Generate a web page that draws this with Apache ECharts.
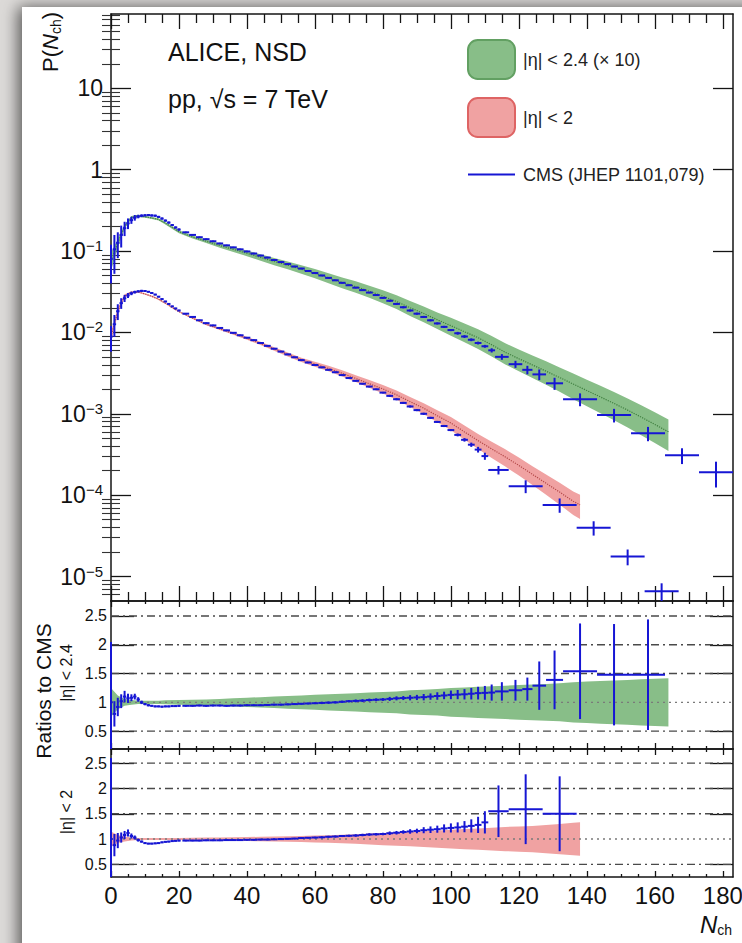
<!DOCTYPE html>
<html>
<head>
<meta charset="utf-8">
<script src="https://cdn.jsdelivr.net/npm/echarts@6/dist/echarts.min.js"></script>
<style>
  html, body { margin: 0; padding: 0; background: #e1dfdd; }
  #chart { width: 742px; height: 943px; }
</style>
</head>
<body>
<div id="chart"></div>
<script>
// Multiplicity distributions P(Nch) in pp collisions at √s = 7 TeV:
// ALICE (bands, central value ± systematic) against CMS (crosses), plus ratio panels.

const FONT = '"Liberation Sans", Arial, Helvetica, sans-serif';
const BLUE = '#1616d4';
const GREEN = '#88be88', GREEN_EDGE = '#62a062', GREEN_LINE = '#3f7f3f';
const RED = '#f0a2a2', RED_EDGE = '#de6464', RED_LINE = '#b44a4a';
const AXIS = '#141414';

const LABEL24 = '|η| < 2.4 (× 10)';
const LABEL20 = '|η| < 2';
const LABEL_CMS = 'CMS (JHEP 1101,079)';

// ---- tick values ----
const nchTicks = [0, 20, 40, 60, 80, 100, 120, 140, 160, 180];
const nchMinorTicks = [5, 10, 15, 25, 30, 35, 45, 50, 55, 65, 70, 75, 85, 90, 95, 105, 110, 115,
  125, 130, 135, 145, 150, 155, 165, 170, 175];
const pTicks = [1e-5, 1e-4, 1e-3, 1e-2, 0.1, 1, 10];
const ratioLabels = [0.5, 1, 1.5, 2, 2.5];
const ratioTicks = [0.5, 1.5, 2, 2.5];
const ratioGridLines = [0.5, 1, 1.5, 2, 2.5];

// ---- CMS |η| < 2.4 (×10): bin centre, bin width, P, relative error ----
const cms24Nch = [0, 1, 2, 3, 4, 5, 6, 7, 8, 9, 10, 11, 12, 13, 14, 15, 16, 17, 18, 19, 20,
  22, 24, 26, 28, 30, 32, 34, 36, 38, 40, 42, 44, 46, 48, 50, 52, 54, 56, 58, 60,
  62, 64, 66, 68, 70, 72, 74, 76, 78, 80, 82, 84, 86, 88, 90, 92, 94, 96, 98, 100,
  102, 104, 106, 108, 110, 112, 115, 119, 122.5, 126, 130.5, 138, 148, 158, 168, 178];
const cms24Width = [1, 1, 1, 1, 1, 1, 1, 1, 1, 1, 1, 1, 1, 1, 1, 1, 1, 1, 1, 1, 1,
  2, 2, 2, 2, 2, 2, 2, 2, 2, 2, 2, 2, 2, 2, 2, 2, 2, 2, 2, 2,
  2, 2, 2, 2, 2, 2, 2, 2, 2, 2, 2, 2, 2, 2, 2, 2, 2, 2, 2, 2,
  2, 2, 2, 2, 2, 2, 4, 4, 3, 4, 5, 10, 10, 10, 10, 10];
const cms24P = [0.080, 0.105, 0.126, 0.158, 0.191, 0.219, 0.240, 0.257, 0.266, 0.272, 0.275,
  0.277, 0.274, 0.272, 0.263, 0.251, 0.237, 0.224, 0.209, 0.195, 0.184,
  0.170, 0.158, 0.148, 0.140, 0.132, 0.124, 0.1175, 0.111, 0.105, 0.0989,
  0.0933, 0.0881, 0.0832, 0.0776, 0.0733, 0.0692, 0.0646, 0.0610, 0.0569, 0.0537,
  0.0501, 0.0468, 0.0437, 0.0407, 0.0380, 0.0355, 0.0331, 0.0309, 0.0288, 0.0266,
  0.0245, 0.0224, 0.0204, 0.0186, 0.0170, 0.0155, 0.0141, 0.0129, 0.0117, 0.0107,
  0.00977, 0.00891, 0.00813, 0.00741, 0.00676, 0.00603, 0.00501, 0.00407, 0.00347,
  0.00305, 0.00237, 0.00151, 0.000966, 0.000575, 0.000309, 0.000191];
const cms24Err = [0.5, 0.5, 0.35, 0.3, 0.2, 0.15, 0.1, 0.08, 0.05, 0.04,
  0.03, 0.03, 0.03, 0.03, 0.03, 0.03, 0.03, 0.03, 0.03, 0.03, 0.03,
  0.02, 0.02, 0.02, 0.02, 0.02, 0.02, 0.02, 0.02, 0.02, 0.02,
  0.02, 0.02, 0.02, 0.02, 0.02, 0.02, 0.02, 0.02, 0.02, 0.02,
  0.02, 0.02, 0.02, 0.02, 0.02, 0.02, 0.02, 0.02, 0.02, 0.02,
  0.03, 0.03, 0.03, 0.03, 0.03, 0.03, 0.03, 0.03, 0.03, 0.03,
  0.04, 0.04, 0.04, 0.04, 0.04,
  0.06, 0.08, 0.10, 0.12, 0.15, 0.17, 0.18, 0.19, 0.20, 0.22, 0.35];

// ---- CMS |η| < 2 ----
const cms20Nch = [0, 1, 2, 3, 4, 5, 6, 7, 8, 9, 10, 11, 12, 13, 14, 15, 16, 17, 18, 19, 20,
  22, 24, 26, 28, 30, 32, 34, 36, 38, 40, 42, 44, 46, 48, 50, 52, 54, 56, 58, 60,
  62, 64, 66, 68, 70, 72, 74, 76, 78, 80, 82, 84, 86, 88, 90, 92, 94, 96, 98, 100,
  102, 104, 106, 108, 110, 114, 122, 132, 142, 152, 162];
const cms20Width = [1, 1, 1, 1, 1, 1, 1, 1, 1, 1, 1, 1, 1, 1, 1, 1, 1, 1, 1, 1, 1,
  2, 2, 2, 2, 2, 2, 2, 2, 2, 2, 2, 2, 2, 2, 2, 2, 2, 2, 2, 2,
  2, 2, 2, 2, 2, 2, 2, 2, 2, 2, 2, 2, 2, 2, 2, 2, 2, 2, 2, 2,
  2, 2, 2, 2, 2, 6, 10, 10, 10, 10, 10];
const cms20P = [0.00891, 0.0126, 0.0182, 0.0229, 0.0263, 0.0285, 0.0302, 0.0313, 0.0320, 0.0324,
  0.0323, 0.0316, 0.0305, 0.0292, 0.0275, 0.0257, 0.0240, 0.0224, 0.0209, 0.0197, 0.0186,
  0.0170, 0.0155, 0.0141, 0.0130, 0.0122, 0.01135, 0.0106, 0.00989, 0.00923, 0.00861,
  0.00804, 0.00741, 0.00684, 0.00631, 0.00582, 0.00537, 0.00495, 0.00457, 0.00427, 0.00398,
  0.00372, 0.00347, 0.00324, 0.00299, 0.00275, 0.00254, 0.00234, 0.00216, 0.00200, 0.00182,
  0.00166, 0.00151, 0.00136, 0.00123, 0.00111, 0.00100, 0.000891, 0.000794, 0.000708, 0.000631,
  0.000550, 0.000479, 0.000417, 0.000363, 0.000302,
  0.000204, 0.000129, 0.0000759, 0.0000398, 0.0000176, 0.0000066];
const cms20Err = [0.35, 0.3, 0.22, 0.15, 0.1, 0.07, 0.05, 0.04, 0.03, 0.03,
  0.02, 0.02, 0.02, 0.02, 0.02, 0.02, 0.02, 0.02, 0.02, 0.02, 0.02,
  0.02, 0.02, 0.02, 0.02, 0.02, 0.02, 0.02, 0.02, 0.02, 0.02,
  0.02, 0.02, 0.02, 0.02, 0.02, 0.02, 0.02, 0.02, 0.02, 0.02,
  0.02, 0.02, 0.02, 0.02, 0.02, 0.02, 0.02, 0.02, 0.02, 0.02,
  0.03, 0.03, 0.03, 0.03, 0.03, 0.03, 0.03, 0.03, 0.03, 0.03,
  0.04, 0.05, 0.06, 0.08, 0.10,
  0.12, 0.18, 0.20, 0.20, 0.22, 0.25];

// ---- ALICE |η| < 2.4 (×10): central value and relative systematic uncertainty ----
const alice24Nch = [0, 2, 4, 6, 8, 10, 12, 14, 16, 20, 24, 28, 32, 36, 40, 44, 48, 52, 56, 60,
  64, 68, 72, 76, 80, 84, 88, 92, 96, 100, 104, 108, 112, 116, 120, 124, 128, 132, 136, 140,
  144, 148, 152, 156, 160, 164];
const alice24P = [0.076, 0.126, 0.200, 0.259, 0.271, 0.264, 0.255, 0.245, 0.220, 0.173,
  0.149, 0.132, 0.117, 0.105, 0.0940, 0.0837, 0.0745, 0.0671, 0.0598, 0.0532,
  0.0468, 0.0411, 0.0366, 0.0321, 0.0279, 0.0240, 0.0201, 0.0171, 0.0143, 0.0121,
  0.0102, 0.00860, 0.00705, 0.00570, 0.00475, 0.00398, 0.00334, 0.00279, 0.00232, 0.00193,
  0.00161, 0.00134, 0.00111, 0.000910, 0.000740, 0.000600];
const alice24Sys = [0.25, 0.12, 0.06, 0.04, 0.03, 0.03, 0.03, 0.03, 0.035, 0.04,
  0.045, 0.05, 0.06, 0.07, 0.08, 0.09, 0.10, 0.11, 0.12, 0.13,
  0.14, 0.15, 0.16, 0.17, 0.18, 0.19, 0.21, 0.22, 0.23, 0.25,
  0.26, 0.27, 0.28, 0.29, 0.30, 0.31, 0.32, 0.33, 0.35, 0.36,
  0.37, 0.38, 0.39, 0.40, 0.41, 0.42];

// ---- ALICE |η| < 2 ----
const alice20Nch = [0, 2, 4, 6, 8, 10, 12, 14, 16, 20, 24, 28, 32, 36, 40, 44, 48, 52, 56, 60,
  64, 68, 72, 76, 80, 84, 88, 92, 96, 100, 104, 108, 112, 116, 120, 124, 128, 132, 136, 138];
const alice20P = [0.0089, 0.0182, 0.0281, 0.0311, 0.0314, 0.0297, 0.0278, 0.0256, 0.0228, 0.0180,
  0.0150, 0.0126, 0.01107, 0.00969, 0.00848, 0.00734, 0.00628, 0.00537, 0.00462, 0.00408,
  0.00361, 0.00315, 0.00272, 0.00234, 0.00202, 0.00171, 0.00141, 0.00117, 0.000945, 0.000770,
  0.000599, 0.000468, 0.000370, 0.000295, 0.000232, 0.000180, 0.000140, 0.000109, 0.0000840, 0.0000760];
const alice20Sys = [0.15, 0.08, 0.05, 0.03, 0.02, 0.02, 0.02, 0.02, 0.02, 0.02,
  0.025, 0.03, 0.03, 0.035, 0.04, 0.045, 0.05, 0.055, 0.06, 0.07,
  0.075, 0.085, 0.095, 0.11, 0.12, 0.13, 0.14, 0.155, 0.17, 0.185,
  0.20, 0.21, 0.225, 0.24, 0.25, 0.26, 0.28, 0.30, 0.32, 0.33];

// ---- ratio to CMS, |η| < 2.4: bin centre, width, ratio, absolute error ----
const ratio24Nch = [0, 1, 2, 3, 4, 5, 6, 7, 8, 9, 10, 11, 12, 13, 14, 15, 16, 17, 18, 19, 20,
  22, 24, 26, 28, 30, 32, 34, 36, 38, 40, 42, 44, 46, 48, 50, 52, 54, 56, 58, 60,
  62, 64, 66, 68, 70, 72, 74, 76, 78, 80, 82, 84, 86, 88, 90, 92, 94, 96, 98, 100,
  102, 104, 106, 108, 110, 112, 115, 119, 122.5, 126, 130.5, 138, 148, 158];
const ratio24Width = [1, 1, 1, 1, 1, 1, 1, 1, 1, 1, 1, 1, 1, 1, 1, 1, 1, 1, 1, 1, 1,
  2, 2, 2, 2, 2, 2, 2, 2, 2, 2, 2, 2, 2, 2, 2, 2, 2, 2, 2, 2,
  2, 2, 2, 2, 2, 2, 2, 2, 2, 2, 2, 2, 2, 2, 2, 2, 2, 2, 2, 2,
  2, 2, 2, 2, 2, 2, 4, 4, 3, 4, 5, 10, 10, 10];
const ratio24 = [1.00, 0.80, 0.92, 1.02, 1.10, 1.07, 1.08, 1.10, 1.05, 1.00, 0.97,
  0.95, 0.94, 0.93, 0.93, 0.925, 0.93, 0.93, 0.935, 0.935, 0.94,
  0.94, 0.94, 0.945, 0.94, 0.945, 0.945, 0.94, 0.945, 0.945, 0.95,
  0.95, 0.95, 0.955, 0.96, 0.96, 0.965, 0.97, 0.975, 0.98, 0.985,
  0.99, 0.995, 1.00, 1.01, 1.02, 1.025, 1.03, 1.04, 1.045, 1.05,
  1.06, 1.07, 1.075, 1.08, 1.085, 1.09, 1.10, 1.11, 1.12, 1.13,
  1.135, 1.14, 1.15, 1.16, 1.165,
  1.17, 1.19, 1.21, 1.23, 1.29, 1.39, 1.54, 1.48, 1.48];
const ratio24Err = [1.05, 0.22, 0.16, 0.12, 0.10, 0.08, 0.06, 0.05, 0.04, 0.03, 0.02,
  0.02, 0.015, 0.015, 0.015, 0.015, 0.015, 0.015, 0.015, 0.015, 0.015,
  0.015, 0.015, 0.015, 0.015, 0.015, 0.015, 0.015, 0.015, 0.015, 0.015,
  0.015, 0.015, 0.015, 0.015, 0.015, 0.015, 0.015, 0.015, 0.015, 0.015,
  0.02, 0.02, 0.02, 0.02, 0.02, 0.025, 0.025, 0.025, 0.025, 0.025,
  0.035, 0.035, 0.035, 0.045, 0.045, 0.055, 0.055, 0.065, 0.065, 0.075,
  0.08, 0.09, 0.10, 0.11, 0.12,
  0.14, 0.16, 0.18, 0.20, 0.42, 0.51, 0.83, 0.88, 0.96];

// ---- ratio to CMS, |η| < 2 ----
const ratio20Nch = [0, 1, 2, 3, 4, 5, 6, 7, 8, 9, 10, 11, 12, 13, 14, 15, 16, 17, 18, 19, 20,
  22, 24, 26, 28, 30, 32, 34, 36, 38, 40, 42, 44, 46, 48, 50, 52, 54, 56, 58, 60,
  62, 64, 66, 68, 70, 72, 74, 76, 78, 80, 82, 84, 86, 88, 90, 92, 94, 96, 98, 100,
  102, 104, 106, 108, 110, 114, 122, 132];
const ratio20Width = [1, 1, 1, 1, 1, 1, 1, 1, 1, 1, 1, 1, 1, 1, 1, 1, 1, 1, 1, 1, 1,
  2, 2, 2, 2, 2, 2, 2, 2, 2, 2, 2, 2, 2, 2, 2, 2, 2, 2, 2, 2,
  2, 2, 2, 2, 2, 2, 2, 2, 2, 2, 2, 2, 2, 2, 2, 2, 2, 2, 2, 2,
  2, 2, 2, 2, 2, 6, 10, 10];
const ratio20 = [1.00, 0.88, 0.97, 1.03, 1.08, 1.12, 1.06, 1.03, 0.98, 0.95, 0.92,
  0.91, 0.91, 0.915, 0.92, 0.935, 0.945, 0.95, 0.96, 0.965, 0.97,
  0.97, 0.97, 0.97, 0.975, 0.975, 0.975, 0.98, 0.98, 0.98, 0.985,
  0.985, 0.99, 0.99, 0.995, 1.00, 1.005, 1.01, 1.02, 1.025, 1.03,
  1.035, 1.045, 1.05, 1.06, 1.065, 1.07, 1.08, 1.09, 1.095, 1.10,
  1.115, 1.125, 1.14, 1.15, 1.16, 1.175, 1.185, 1.195, 1.21, 1.22,
  1.23, 1.245, 1.26, 1.28, 1.33,
  1.55, 1.59, 1.50];
const ratio20Err = [1.6, 0.22, 0.15, 0.10, 0.08, 0.07, 0.05, 0.04, 0.03, 0.02, 0.015,
  0.015, 0.015, 0.015, 0.015, 0.015, 0.015, 0.015, 0.015, 0.015, 0.015,
  0.015, 0.015, 0.015, 0.015, 0.015, 0.015, 0.015, 0.015, 0.015, 0.015,
  0.015, 0.015, 0.015, 0.015, 0.015, 0.015, 0.015, 0.015, 0.015, 0.015,
  0.02, 0.02, 0.02, 0.02, 0.02, 0.025, 0.025, 0.025, 0.025, 0.025,
  0.035, 0.035, 0.035, 0.045, 0.045, 0.06, 0.065, 0.07, 0.08, 0.09,
  0.10, 0.11, 0.13, 0.16, 0.22,
  0.51, 0.69, 0.74];

// log-axis minor ticks (2..9 in every decade inside the range)
const P_MIN = 5e-6, P_MAX = 82;
const pMinorTicks = [];
for (let d = -6; d <= 1; d++) {
  for (let k = 2; k <= 9; k++) {
    const v = k * Math.pow(10, d);
    if (v >= P_MIN && v <= P_MAX) pMinorTicks.push(v);
  }
}

// ---- renderers ----
function crossRenderer(relative) {
  return function (params, api) {
    const x = api.value(0), y = api.value(1), w = api.value(2), e = api.value(3);
    const cs = params.coordSys;
    const cy = v => Math.max(cs.y, Math.min(cs.y + cs.height, v));
    const cx = v => Math.max(cs.x, Math.min(cs.x + cs.width, v));
    const lo = relative ? y * (1 - e) : y - e;
    const hi = relative ? y * (1 + e) : y + e;
    const c = api.coord([x, y]);
    const l = api.coord([x - w / 2, y]);
    const r = api.coord([x + w / 2, y]);
    const t = api.coord([x, hi]);
    const bY = lo > 0 || !relative ? api.coord([x, lo])[1] : cs.y + cs.height;
    const st = { stroke: BLUE, lineWidth: 2 };
    return {
      type: 'group',
      children: [
        { type: 'line', shape: { x1: cx(l[0]), y1: c[1], x2: cx(r[0]), y2: c[1] }, style: st },
        { type: 'line', shape: { x1: c[0], y1: cy(t[1]), x2: c[0], y2: cy(bY) }, style: st }
      ]
    };
  };
}

function bandRenderer(nch, centre, sys, fill, ratio) {
  return function (params, api) {
    if (params.dataIndex !== 0) return null;
    const upper = [], lower = [];
    for (let i = 0; i < nch.length; i++) {
      const c = ratio ? 1 : centre[i];
      upper.push(api.coord([nch[i], c * (1 + sys[i])]));
      lower.push(api.coord([nch[i], c * (1 - sys[i])]));
    }
    return { type: 'polygon', shape: { points: upper.concat(lower.reverse()) }, style: { fill: fill } };
  };
}

function gridLineRenderer(params, api) {
  const v = api.value(1);
  const cs = params.coordSys;
  const y = api.coord([0, v])[1];
  return {
    type: 'line',
    shape: { x1: cs.x, y1: y, x2: cs.x + cs.width, y2: y },
    style: v === 1
      ? { stroke: '#7a7a7a', lineWidth: 1.4, lineDash: [2, 4] }
      : { stroke: '#4a4a4a', lineWidth: 1.4, lineDash: [8, 4, 2, 4] }
  };
}

// ---- axes ----
const axisLineStyle = { color: AXIS, width: 1.5 };
const tickStyle = { color: AXIS, width: 1.3 };

function xAxesFor(g, showLabels, majorLen, minorLen) {
  const base = {
    gridIndex: g, type: 'value', min: 0, max: 183,
    splitLine: { show: false }, axisLabel: { show: false },
    axisLine: { show: false }, axisTick: { show: false }
  };
  const label = showLabels
    ? { show: true, customValues: nchTicks, margin: 6, fontSize: 24, fontFamily: FONT, color: '#111' }
    : { show: false };
  return [
    Object.assign({}, base, { position: 'bottom',
      axisLine: { show: true, onZero: false, lineStyle: axisLineStyle },
      axisTick: { show: true, inside: true, length: majorLen, customValues: nchTicks, lineStyle: tickStyle },
      axisLabel: label }),
    Object.assign({}, base, { position: 'bottom',
      axisTick: { show: true, inside: true, length: minorLen, customValues: nchMinorTicks, lineStyle: tickStyle } }),
    Object.assign({}, base, { position: 'top',
      axisLine: { show: true, onZero: false, lineStyle: axisLineStyle },
      axisTick: { show: true, inside: true, length: majorLen, customValues: nchTicks, lineStyle: tickStyle } }),
    Object.assign({}, base, { position: 'top',
      axisTick: { show: true, inside: true, length: minorLen, customValues: nchMinorTicks, lineStyle: tickStyle } })
  ];
}

function logLabel(v) {
  const e = Math.round(Math.log10(v));
  if (e === 0) return '{b|1}';
  if (e === 1) return '{b|10}';
  return '{b|10}{p|' + (e < 0 ? '\u2212' + (-e) : e) + '}';
}

const logBase = {
  gridIndex: 0, type: 'log', logBase: 10, min: P_MIN, max: P_MAX,
  splitLine: { show: false }, axisLabel: { show: false }, axisLine: { show: false }, axisTick: { show: false }
};
const yAxesTop = [
  Object.assign({}, logBase, { position: 'left',
    axisLine: { show: true, onZero: false, lineStyle: axisLineStyle },
    axisTick: { show: true, inside: true, length: 20, customValues: pTicks, lineStyle: tickStyle },
    axisLabel: { show: true, customValues: pTicks, margin: 8, formatter: logLabel,
      rich: {
        b: { fontSize: 23, fontFamily: FONT, color: '#111', lineHeight: 26 },
        p: { fontSize: 15, fontFamily: FONT, color: '#111', lineHeight: 16, verticalAlign: 'top' }
      } } }),
  Object.assign({}, logBase, { position: 'left',
    axisTick: { show: true, inside: true, length: 9, customValues: pMinorTicks, lineStyle: { color: '#333', width: 1.1 } } }),
  Object.assign({}, logBase, { position: 'right',
    axisLine: { show: true, onZero: false, lineStyle: axisLineStyle },
    axisTick: { show: true, inside: true, length: 20, customValues: pTicks, lineStyle: tickStyle } }),
  Object.assign({}, logBase, { position: 'right',
    axisTick: { show: true, inside: true, length: 9, customValues: pMinorTicks, lineStyle: { color: '#333', width: 1.1 } } })
];

function ratioYAxes(g, min, max) {
  const base = {
    gridIndex: g, type: 'value', min: min, max: max,
    splitLine: { show: false }, axisLabel: { show: false }
  };
  return [
    Object.assign({}, base, { position: 'left',
      axisLine: { show: true, onZero: false, lineStyle: axisLineStyle },
      axisTick: { show: true, inside: true, length: 23, customValues: ratioTicks, lineStyle: tickStyle },
      axisLabel: { show: true, customValues: ratioLabels, margin: 4, fontSize: 16, fontFamily: FONT, color: '#111' } }),
    Object.assign({}, base, { position: 'right',
      axisLine: { show: true, onZero: false, lineStyle: axisLineStyle },
      axisTick: { show: true, inside: true, length: 23, customValues: ratioTicks, lineStyle: tickStyle } })
  ];
}

const xAxis = [].concat(
  xAxesFor(0, false, 15, 9),   // 0..3
  xAxesFor(1, false, 6, 3),    // 4..7
  xAxesFor(2, true, 6, 3)      // 8..11
);
const yAxis = [].concat(
  yAxesTop,                    // 0..3
  ratioYAxes(1, 0.19, 2.76),   // 4..5
  ratioYAxes(2, 0.25, 2.78)    // 6..7
);

// ---- series ----
function bandSeries(name, xi, yi, nch, centre, sys, fill, ratio) {
  return {
    type: 'custom', name: name, xAxisIndex: xi, yAxisIndex: yi, z: 2, silent: true,
    data: nch.map((x, i) => [x, ratio ? 1 : centre[i]]),
    encode: { x: 0, y: 1 },
    renderItem: bandRenderer(nch, centre, sys, fill, ratio)
  };
}
function crossSeries(xi, yi, nch, val, wid, err, relative) {
  return {
    type: 'custom', name: LABEL_CMS, xAxisIndex: xi, yAxisIndex: yi, z: 5, silent: true,
    data: nch.map((x, i) => [x, val[i], wid[i], err[i]]),
    encode: { x: 0, y: 1 },
    renderItem: crossRenderer(relative)
  };
}
function centreLine(nch, centre, color) {
  return {
    type: 'line', xAxisIndex: 0, yAxisIndex: 0, z: 4, silent: true, showSymbol: false,
    data: nch.map((x, i) => [x, centre[i]]),
    lineStyle: { color: color, width: 1.2, type: 'dotted' }
  };
}
function gridSeries(xi, yi) {
  return {
    type: 'custom', xAxisIndex: xi, yAxisIndex: yi, z: 3, silent: true,
    data: ratioGridLines.map(v => [0, v]),
    encode: { x: 0, y: 1 },
    renderItem: gridLineRenderer
  };
}

const series = [
  // top panel
  bandSeries(LABEL24, 0, 0, alice24Nch, alice24P, alice24Sys, GREEN, false),
  bandSeries(LABEL20, 0, 0, alice20Nch, alice20P, alice20Sys, RED, false),
  centreLine(alice24Nch, alice24P, GREEN_LINE),
  centreLine(alice20Nch, alice20P, RED_LINE),
  crossSeries(0, 0, cms24Nch, cms24P, cms24Width, cms24Err, true),
  crossSeries(0, 0, cms20Nch, cms20P, cms20Width, cms20Err, true),
  // ratio |η| < 2.4
  bandSeries(LABEL24, 4, 4, alice24Nch, alice24P, alice24Sys, GREEN, true),
  gridSeries(4, 4),
  crossSeries(4, 4, ratio24Nch, ratio24, ratio24Width, ratio24Err, false),
  // ratio |η| < 2
  bandSeries(LABEL20, 8, 6, alice20Nch, alice20P, alice20Sys, RED, true),
  gridSeries(8, 6),
  crossSeries(8, 6, ratio20Nch, ratio20, ratio20Width, ratio20Err, false)
];

const txt = { fill: '#111', fontFamily: FONT };

const option = {
  animation: false,
  backgroundColor: '#dcdad8',
  grid: [
    { left: 111, right: 9, top: 14, height: 587, outerBoundsMode: 'none' },
    { left: 111, right: 9, top: 601, height: 148, outerBoundsMode: 'none' },
    { left: 111, right: 9, top: 749, height: 128, outerBoundsMode: 'none' }
  ],
  xAxis: xAxis,
  yAxis: yAxis,
  legend: {
    orient: 'vertical', left: 462, top: 34,
    itemWidth: 47, itemHeight: 39, itemGap: 17, selectedMode: false,
    textStyle: { fontSize: 18, fontFamily: FONT, color: '#222', padding: [0, 0, 0, 3] },
    data: [
      { name: LABEL24, icon: 'roundRect', itemStyle: { color: GREEN, borderColor: GREEN_EDGE, borderWidth: 2 } },
      { name: LABEL20, icon: 'roundRect', itemStyle: { color: RED, borderColor: RED_EDGE, borderWidth: 2 } },
      { name: LABEL_CMS, icon: 'path://M0,0M0,18.5L47,18.5L47,20.5L0,20.5ZM47,39', itemStyle: { color: BLUE, borderWidth: 0 } }
    ]
  },
  graphic: [
    { type: 'rect', z: -1, silent: true, shape: { x: 22, y: 7, width: 760, height: 960 },
      style: { fill: '#ffffff', shadowBlur: 16, shadowColor: 'rgba(0,0,0,0.6)', shadowOffsetX: -4 } },
    { type: 'text', x: 168, y: 52, silent: true,
      style: Object.assign({ text: 'ALICE, NSD', fontSize: 25, textVerticalAlign: 'middle' }, txt) },
    { type: 'text', x: 168, y: 99, silent: true,
      style: Object.assign({ text: 'pp, √s = 7 TeV', fontSize: 25, textVerticalAlign: 'middle' }, txt) },
    { type: 'text', x: 50, y: 12, rotation: Math.PI / 2, silent: true,
      style: Object.assign({
        text: '{a|P(}{i|N}{s|ch}{a|)}', textAlign: 'right', textVerticalAlign: 'middle',
        rich: {
          a: { fontSize: 22, fontFamily: FONT, color: '#111', lineHeight: 26 },
          i: { fontSize: 22, fontFamily: FONT, fontStyle: 'italic', color: '#111', lineHeight: 26 },
          s: { fontSize: 14, fontFamily: FONT, color: '#111', lineHeight: 14, verticalAlign: 'bottom' }
        } }, txt) },
    { type: 'text', x: 43, y: 691, rotation: Math.PI / 2, silent: true,
      style: Object.assign({ text: 'Ratios to CMS', fontSize: 21, textAlign: 'center', textVerticalAlign: 'middle' }, txt) },
    { type: 'text', x: 66, y: 673, rotation: Math.PI / 2, silent: true,
      style: Object.assign({ text: '|η| < 2.4', fontSize: 16, textAlign: 'center', textVerticalAlign: 'middle' }, txt) },
    { type: 'text', x: 66, y: 812, rotation: Math.PI / 2, silent: true,
      style: Object.assign({ text: '|η| < 2', fontSize: 16, textAlign: 'center', textVerticalAlign: 'middle' }, txt) },
    { type: 'text', x: 732, y: 924, silent: true,
      style: Object.assign({
        text: '{i|N}{s|ch}', textAlign: 'right', textVerticalAlign: 'middle',
        rich: {
          i: { fontSize: 24, fontFamily: FONT, fontStyle: 'italic', color: '#111', lineHeight: 26 },
          s: { fontSize: 14, fontFamily: FONT, color: '#111', lineHeight: 14, verticalAlign: 'bottom' }
        } }, txt) }
  ],
  series: series
};

const chart = echarts.init(document.getElementById('chart'), null, { renderer: 'svg' });
chart.setOption(option);
</script>
</body>
</html>
